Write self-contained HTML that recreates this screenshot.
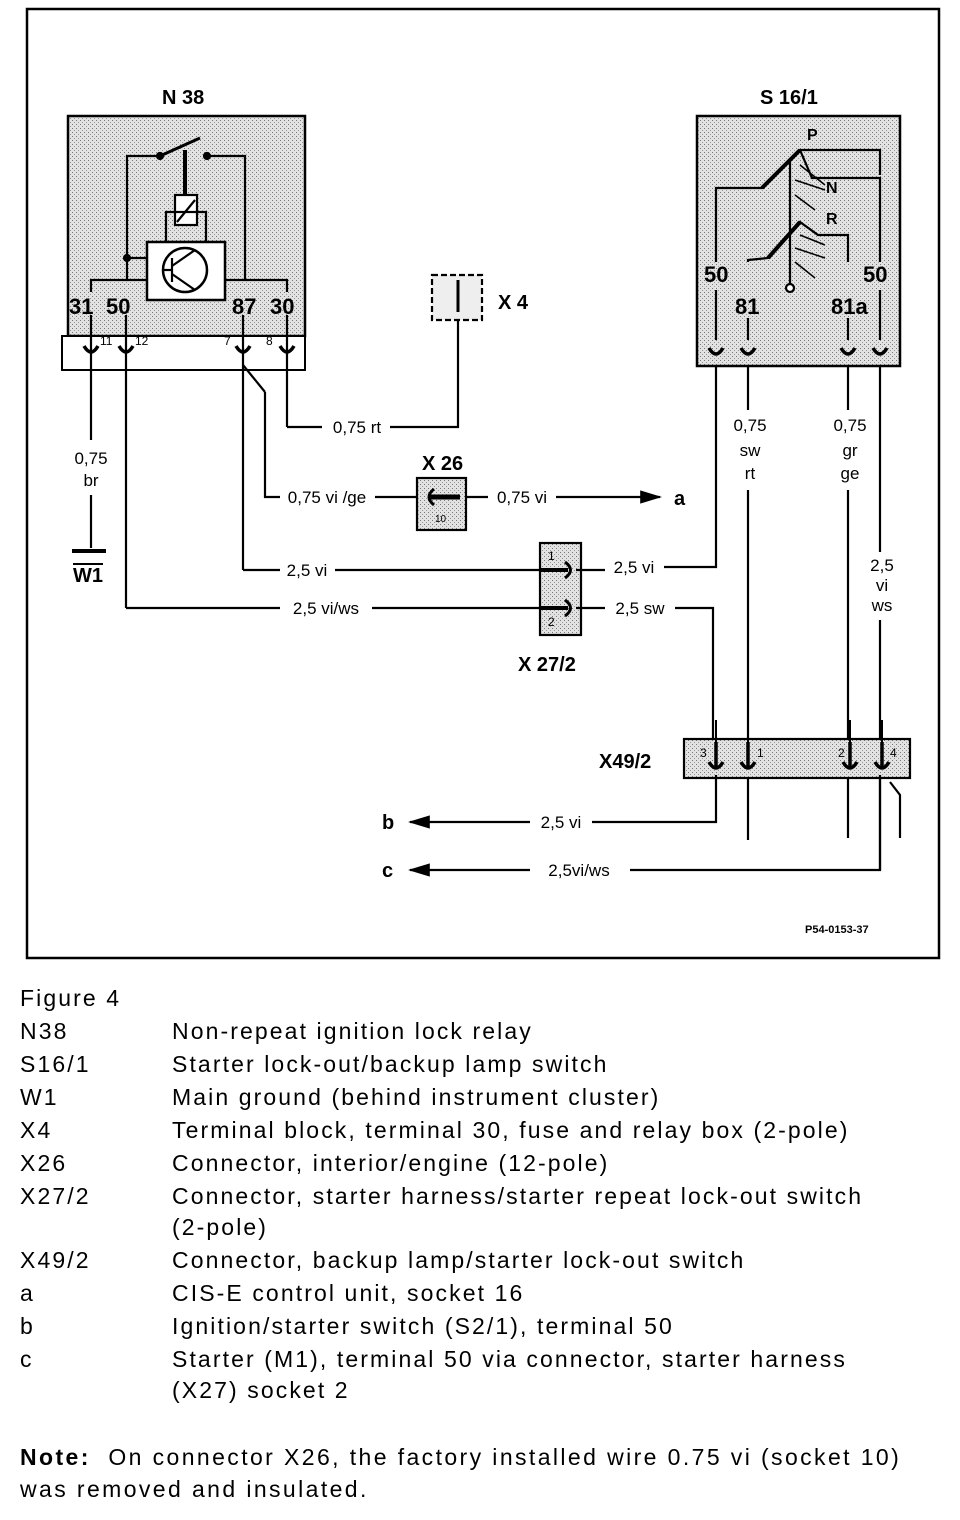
<!DOCTYPE html>
<html><head><meta charset="utf-8"><style>
html,body{margin:0;padding:0;background:#fff;width:960px;height:1520px;overflow:hidden}
body{position:relative;font-family:"Liberation Sans",Arial,sans-serif;color:#000}
svg{position:absolute;left:0;top:0}
.t{position:absolute;font-size:23px;line-height:33px;white-space:nowrap;letter-spacing:2.1px}
.l{left:20px}.r{left:172px}
</style></head><body>
<svg width="960" height="970" viewBox="0 0 960 970" font-family="Liberation Sans, Arial, sans-serif">
<defs>
<pattern id="dots" width="4" height="4" patternUnits="userSpaceOnUse">
<rect width="4" height="4" fill="#e2e2e2"/><rect x="0" y="0" width="1" height="1" fill="#777"/><rect x="2" y="2" width="1" height="1" fill="#999"/>
</pattern>
<marker id="ar" markerWidth="10" markerHeight="8" refX="9" refY="4" orient="auto"><path d="M0,1 L10,4 L0,7 z" fill="#000"/></marker>
</defs>
<rect x="27" y="9" width="912" height="949" fill="none" stroke="#000" stroke-width="2.5"/>
<g stroke="#000" stroke-width="2.2" fill="none">
<!-- N38 -->
<rect x="68" y="116" width="237" height="220" fill="url(#dots)" stroke-width="2.5"/>
<rect x="62" y="336" width="243" height="34" fill="#fff" stroke-width="2"/>
<polyline points="127,280 127,156 160,156"/>
<polyline points="210,156 245,156 245,280"/>
<line x1="160" y1="156" x2="200" y2="138" stroke-width="3"/>
<circle cx="207" cy="156" r="3" fill="#000"/><circle cx="160" cy="156" r="3" fill="#000"/>
<line x1="185" y1="150" x2="185" y2="195" stroke-width="4"/>
<rect x="175" y="195" width="22" height="30" fill="#fff"/>
<line x1="177" y1="222" x2="195" y2="200"/>
<rect x="166" y="212" width="40" height="30"/>
<rect x="147" y="242" width="78" height="58" fill="#fff" stroke-width="2.5"/>
<circle cx="185" cy="270" r="22" stroke-width="2.5"/>
<polyline points="172,258 172,282"/><line x1="162" y1="270" x2="172" y2="270"/><line x1="172" y1="266" x2="195" y2="250"/><line x1="172" y1="274" x2="195" y2="290"/>
<line x1="127" y1="258" x2="147" y2="258"/><circle cx="127" cy="258" r="3" fill="#000"/>
<polyline points="91,292 91,280 147,280"/>
<polyline points="225,280 287,280 287,292"/>
<!-- S16/1 -->
<rect x="697" y="116" width="203" height="250" fill="url(#dots)" stroke-width="2.5"/>
<polyline points="716,262 716,188 762,188 800,150 880,150 880,175"/>
<polyline points="800,150 812,178 880,178 880,262"/>
<line x1="790" y1="160" x2="790" y2="285"/><circle cx="790" cy="288" r="4" fill="#fff"/>
<polyline points="748,262 748,260 768,258 800,222 818,235 848,235 848,262"/>
<line x1="762" y1="188" x2="800" y2="150" stroke-width="4"/>
<line x1="768" y1="258" x2="800" y2="222" stroke-width="4"/>
<line x1="800" y1="165" x2="825" y2="185" stroke-width="1.5"/><line x1="795" y1="180" x2="825" y2="190" stroke-width="1.5"/><line x1="795" y1="195" x2="815" y2="210" stroke-width="1.5"/>
<line x1="800" y1="235" x2="825" y2="245" stroke-width="1.5"/><line x1="795" y1="248" x2="825" y2="258" stroke-width="1.5"/><line x1="795" y1="262" x2="815" y2="278" stroke-width="1.5"/>
<polyline points="716,290 716,340"/><polyline points="748,318 748,340"/><polyline points="848,318 848,340"/><polyline points="880,290 880,340"/>
<!-- wires N38 -->
<line x1="91" y1="315" x2="91" y2="440"/><line x1="91" y1="495" x2="91" y2="548"/>
<line x1="126" y1="315" x2="126" y2="608"/>
<line x1="243" y1="315" x2="243" y2="570"/>
<line x1="287" y1="315" x2="287" y2="427"/>
<polyline points="287,427 322,427"/><polyline points="390,427 458,427 458,310"/>
<line x1="243" y1="365" x2="265" y2="392"/>
<polyline points="265,392 265,497 280,497"/>
<line x1="375" y1="497" x2="420" y2="497"/>
<line x1="467" y1="497" x2="488" y2="497"/>
<line x1="556" y1="497" x2="660" y2="497" marker-end="url(#ar)"/>
<line x1="243" y1="570" x2="280" y2="570"/><line x1="335" y1="570" x2="552" y2="570"/>
<line x1="126" y1="608" x2="280" y2="608"/><line x1="372" y1="608" x2="552" y2="608"/>
<!-- X4 -->
<rect x="432" y="275" width="50" height="45" stroke-dasharray="6,3" fill="#eee"/>
<line x1="458" y1="280" x2="458" y2="312" stroke-width="3"/>
<!-- X26 -->
<rect x="417" y="478" width="49" height="52" fill="url(#dots)"/>
<line x1="428" y1="497" x2="460" y2="497" stroke-width="5"/>
<path d="M434,489 Q424,497 434,505" stroke-width="3"/>
<!-- X27/2 -->
<rect x="540" y="543" width="41" height="92" fill="url(#dots)"/>
<path d="M565,562 Q576,570 565,578" stroke-width="3"/><path d="M565,600 Q576,608 565,616" stroke-width="3"/>
<line x1="540" y1="570" x2="568" y2="570" stroke-width="4"/><line x1="540" y1="608" x2="568" y2="608" stroke-width="4"/>
<line x1="576" y1="570" x2="605" y2="570"/><line x1="576" y1="608" x2="605" y2="608"/>
<polyline points="664,567 716,567 716,365"/>
<polyline points="675,608 713,608 713,760"/>
<!-- S16 wires down -->
<line x1="748" y1="365" x2="748" y2="410"/><line x1="748" y1="490" x2="748" y2="840"/>
<line x1="848" y1="365" x2="848" y2="410"/><line x1="848" y1="490" x2="848" y2="838"/>
<line x1="880" y1="365" x2="880" y2="552"/><line x1="880" y1="620" x2="880" y2="870"/>
<!-- X49/2 -->
<rect x="684" y="739" width="226" height="39" fill="url(#dots)"/>
<polyline points="890,782 900,795 900,838"/>
<polyline points="716,775 716,822 592,822"/><line x1="530" y1="822" x2="410" y2="822" marker-end="url(#ar)"/>
<polyline points="880,775 880,870 630,870"/><line x1="530" y1="870" x2="410" y2="870" marker-end="url(#ar)"/>
<!-- W1 -->
<line x1="72" y1="551" x2="106" y2="551" stroke-width="4"/>
</g>
<!-- sockets -->
<g stroke="#000" stroke-width="3.5" fill="none">
<path d="M84,346 Q91,358 98,346"/><path d="M119,346 Q126,358 133,346"/><path d="M236,346 Q243,358 250,346"/><path d="M280,346 Q287,358 294,346"/>
<path d="M709,348 Q716,360 723,348"/><path d="M741,348 Q748,360 755,348"/><path d="M841,348 Q848,360 855,348"/><path d="M873,348 Q880,360 887,348"/>
<path d="M709,762 Q716,774 723,762"/><path d="M741,762 Q748,774 755,762"/><path d="M843,762 Q850,774 857,762"/><path d="M875,762 Q882,774 889,762"/>
<line x1="716" y1="742" x2="716" y2="768"/><line x1="748" y1="742" x2="748" y2="768"/><line x1="850" y1="742" x2="850" y2="768"/><line x1="882" y1="742" x2="882" y2="768"/>
<line x1="716" y1="720" x2="716" y2="742" stroke-width="2"/><line x1="748" y1="720" x2="748" y2="742" stroke-width="2"/><line x1="850" y1="720" x2="850" y2="742" stroke-width="2"/><line x1="882" y1="720" x2="882" y2="742" stroke-width="2"/>
</g>
<g font-weight="bold" font-size="20" fill="#000">
<text x="162" y="104">N 38</text>
<text x="760" y="104">S 16/1</text>
<text x="498" y="309">X 4</text>
<text x="422" y="470">X 26</text>
<text x="518" y="671">X 27/2</text>
<text x="599" y="768">X49/2</text>
<text x="73" y="582" text-decoration="overline">W1</text>
<text x="382" y="829">b</text>
<text x="382" y="877">c</text>
<text x="674" y="505">a</text>
<text x="807" y="140" font-size="16">P</text>
<text x="826" y="193" font-size="16">N</text>
<text x="826" y="224" font-size="16">R</text>
</g>
<g font-size="22" font-weight="bold" fill="#000">
<text x="69" y="314">31</text><text x="106" y="314">50</text><text x="232" y="314">87</text><text x="270" y="314">30</text>
<text x="704" y="282">50</text><text x="863" y="282">50</text><text x="735" y="314">81</text><text x="831" y="314">81a</text>
</g>
<g font-size="12" fill="#000">
<text x="100" y="345">11</text><text x="135" y="345">12</text><text x="224" y="345">7</text><text x="266" y="345">8</text>
<text x="435" y="522" font-size="10">10</text><text x="548" y="560">1</text><text x="548" y="626">2</text>
<text x="700" y="757">3</text><text x="757" y="757">1</text><text x="838" y="757">2</text><text x="890" y="757">4</text>
<text x="805" y="933" font-size="11" font-weight="bold">P54-0153-37</text>
</g>
<g font-size="17" fill="#000" text-anchor="middle">
<text x="91" y="464">0,75</text><text x="91" y="486">br</text>
<text x="357" y="433">0,75 rt</text>
<text x="327" y="503">0,75 vi /ge</text>
<text x="522" y="503">0,75 vi</text>
<text x="307" y="576">2,5 vi</text>
<text x="326" y="614">2,5 vi/ws</text>
<text x="634" y="573">2,5 vi</text>
<text x="640" y="614">2,5 sw</text>
<text x="561" y="828">2,5 vi</text>
<text x="579" y="876">2,5vi/ws</text>
<text x="750" y="431">0,75</text><text x="750" y="456">sw</text><text x="750" y="479">rt</text>
<text x="850" y="431">0,75</text><text x="850" y="456">gr</text><text x="850" y="479">ge</text>
<text x="882" y="571">2,5</text><text x="882" y="591">vi</text><text x="882" y="611">ws</text>
</g>
</svg>
<div class="t l" style="top:982px">Figure 4</div>
<div class="t l" style="top:1015px">N38</div><div class="t r" style="top:1015px">Non-repeat ignition lock relay</div>
<div class="t l" style="top:1048px">S16/1</div><div class="t r" style="top:1048px">Starter lock-out/backup lamp switch</div>
<div class="t l" style="top:1081px">W1</div><div class="t r" style="top:1081px">Main ground (behind instrument cluster)</div>
<div class="t l" style="top:1114px">X4</div><div class="t r" style="top:1114px">Terminal block, terminal 30, fuse and relay box (2-pole)</div>
<div class="t l" style="top:1147px">X26</div><div class="t r" style="top:1147px">Connector, interior/engine (12-pole)</div>
<div class="t l" style="top:1180px">X27/2</div><div class="t r" style="top:1180px">Connector, starter harness/starter repeat lock-out switch</div>
<div class="t r" style="top:1211px">(2-pole)</div>
<div class="t l" style="top:1244px">X49/2</div><div class="t r" style="top:1244px">Connector, backup lamp/starter lock-out switch</div>
<div class="t l" style="top:1277px">a</div><div class="t r" style="top:1277px">CIS-E control unit, socket 16</div>
<div class="t l" style="top:1310px">b</div><div class="t r" style="top:1310px">Ignition/starter switch (S2/1), terminal 50</div>
<div class="t l" style="top:1343px">c</div><div class="t r" style="top:1343px">Starter (M1), terminal 50 via connector, starter harness</div>
<div class="t r" style="top:1374px">(X27) socket 2</div>
<div class="t l" style="top:1441px;letter-spacing:2.4px"><b>Note:</b>&nbsp; On connector X26, the factory installed wire 0.75 vi (socket 10)</div>
<div class="t l" style="top:1473px;letter-spacing:2.4px">was removed and insulated.</div>
</body></html>
